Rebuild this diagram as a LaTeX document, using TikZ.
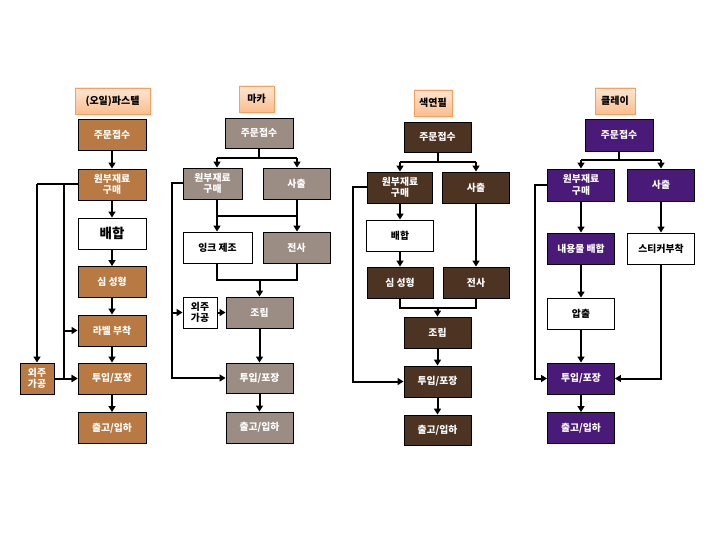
\documentclass[tikz,border=0pt]{standalone}
\usepackage{fontspec}
\newfontfamily\kr{Noto Sans CJK KR}
\usetikzlibrary{arrows.meta}
\definecolor{wood}{HTML}{B87A42}
\definecolor{granite}{HTML}{9B8D84}
\definecolor{pencil}{HTML}{4D3422}
\definecolor{clay}{HTML}{4A1A78}
\definecolor{ttop}{HTML}{FDE6D2}
\definecolor{tbot}{HTML}{F9BE8E}
\definecolor{tedge}{HTML}{F4A060}
\tikzset{
  box/.style={draw=black, line width=0.9pt, minimum height=31pt, minimum width=67pt, inner sep=0pt, align=center,
     font=\kr\bfseries\fontsize{9.8}{11.5}\selectfont},
  pastel/.style={box, fill=wood, text=white},
  marker/.style={box, fill=granite, text=white},
  pencilbox/.style={box, fill=pencil, text=white},
  claybox/.style={box, fill=clay, text=white},
  plain/.style={box, fill=white, text=black},
  titlebox/.style={draw=tedge, line width=0.8pt, top color=ttop, bottom color=tbot, minimum height=26pt,
     inner sep=0pt, font=\kr\bfseries\fontsize{10}{12}\selectfont},
  ln/.style={line width=2pt},
  arr/.style={line width=2pt, -{Triangle[length=6pt,width=7pt]}}
}
\begin{document}
\begin{tikzpicture}[x=1pt,y=-1pt]
\useasboundingbox (0,0) rectangle (720,540);
% ---------- column 1 : pastel ----------
\node[titlebox, minimum width=75pt] (t1) at (112.5,101) {(오일)파스텔};
\node[pastel, minimum width=68pt] (a1) at (112,134.5) {주문접수};
\node[pastel, minimum width=68pt] (a2) at (112,184.5) {원부재료\\구매};
\node[plain, minimum width=68pt, font=\kr\bfseries\fontsize{13.5}{15}\selectfont] (a3) at (112,233.5) {배합};
\node[pastel, minimum width=68pt] (a4) at (112,282) {심 성형};
\node[pastel, minimum width=68pt] (a5) at (112,330.5) {라벨 부착};
\node[pastel, minimum width=68pt] (a6) at (112,378.5) {투입/포장};
\node[pastel, minimum width=68pt] (a7) at (112,428) {출고/입하};
\node[pastel, minimum width=34pt] (a8) at (37,378.5) {외주\\가공};
\draw[arr] (a1) -- (a2);
\draw[arr] (a2) -- (a3);
\draw[arr] (a3) -- (a4);
\draw[arr] (a4) -- (a5);
\draw[arr] (a5) -- (a6);
\draw[arr] (a6) -- (a7);
\coordinate (p1) at (37,184.5);
\coordinate (p2) at (64,184.5);
\draw[ln] (a2.west) -- (p1);
\draw[arr] (p1) -- (a8.north);
\draw[arr] (p2) |- (a5.west);
\draw[arr] (p2) |- (a6.west);
\draw[arr] (a8.east) -- (a6.west);
% ---------- column 2 : marker ----------
\node[titlebox, minimum width=35pt] (t2) at (256.5,99) {마카};
\node[marker, minimum width=68pt, minimum height=30pt] (b1) at (259,133) {주문접수};
\node[marker, minimum width=59pt] (b2) at (212.5,183.5) {원부재료\\구매};
\node[marker] (b3) at (296.5,183.5) {사출};
\node[plain, minimum width=69pt] (b4) at (217.5,247.5) {잉크 제조};
\node[marker] (b5) at (296.5,247.5) {전사};
\node[plain, minimum width=34pt] (b6) at (200,312.5) {외주\\가공};
\node[marker] (b7) at (259.5,312.5) {조립};
\node[marker, minimum height=30pt] (b8) at (259.5,378) {투입/포장};
\node[marker] (b9) at (259.5,427.5) {출고/입하};
\coordinate (q0) at (259,158);
\coordinate (q1) at (217,158);
\coordinate (q2) at (297,158);
\coordinate (q3) at (217,216);
\coordinate (q4) at (297,216);
\coordinate (q5) at (217,280);
\coordinate (q6) at (297,280);
\coordinate (q7) at (259.5,280);
\coordinate (q8) at (172,183.5);
\draw[ln] (b1.south) -- (q0);
\draw[ln] (q1) -- (q2);
\draw[arr] (q1) -- (q1 |- b2.north);
\draw[arr] (q2) -- (q2 |- b3.north);
\draw[ln] (q1 |- b2.south) -- (q3) -- (q4) -- (q4 |- b3.south);
\draw[arr] (q3) -- (q3 |- b4.north);
\draw[arr] (q4) -- (q4 |- b5.north);
\draw[ln] (q5 |- b4.south) -- (q5) -- (q6) -- (q6 |- b5.south);
\draw[arr] (q7) -- (b7.north);
\draw[arr] (b2.west) -- (q8) |- (b8.west);
\draw[arr] (q8 |- b6.west) -- (b6.west);
\draw[arr] (b6) -- (b7);
\draw[arr] (b7) -- (b8);
\draw[arr] (b8) -- (b9);
% ---------- column 3 : colour pencil ----------
\node[titlebox, minimum width=38pt] (t3) at (433,103) {색연필};
\node[pencilbox, minimum height=30pt] (c1) at (437.5,137) {주문접수};
\node[pencilbox, minimum width=65pt] (c2) at (400,187.5) {원부재료\\구매};
\node[pencilbox] (c3) at (476,187.5) {사출};
\node[plain] (c4) at (400,235.5) {배합};
\node[pencilbox, minimum width=66pt] (c5) at (400,282.5) {심 성형};
\node[pencilbox, minimum width=66pt] (c6) at (476,282.5) {전사};
\node[pencilbox] (c7) at (437.5,332.5) {조립};
\node[pencilbox] (c8) at (437.5,381.5) {투입/포장};
\node[pencilbox, minimum height=30pt] (c9) at (437.5,430) {출고/입하};
\coordinate (r0) at (437.5,162);
\coordinate (r1) at (400,162);
\coordinate (r2) at (476,162);
\coordinate (r3) at (400,308);
\coordinate (r4) at (476,308);
\coordinate (r5) at (437.5,308);
\coordinate (r6) at (353,187.5);
\draw[ln] (c1.south) -- (r0);
\draw[ln] (r1) -- (r2);
\draw[arr] (r1) -- (c2.north);
\draw[arr] (r2) -- (c3.north);
\draw[arr] (c2) -- (c4);
\draw[arr] (c4) -- (c5);
\draw[arr] (c3) -- (c6);
\draw[ln] (c5.south) -- (r3) -- (r4) -- (c6.south);
\draw[arr] (r5) -- (c7.north);
\draw[arr] (c7) -- (c8);
\draw[arr] (c8) -- (c9);
\draw[arr] (c2.west) -- (r6) |- (c8.west);
% ---------- column 4 : clay ----------
\node[titlebox, minimum width=40pt] (t4) at (615,101) {클레이};
\node[claybox, minimum width=68pt, minimum height=32pt] (d1) at (619,135) {주문접수};
\node[claybox, minimum height=32pt] (d2) at (581,185) {원부재료\\구매};
\node[claybox, minimum height=32pt] (d3) at (661,185) {사출};
\node[claybox] (d4) at (581,248.5) {내용물 배합};
\node[plain] (d5) at (661,248.5) {스티커부착};
\node[plain] (d6) at (581,313.5) {압출};
\node[claybox] (d7) at (581,378.5) {투입/포장};
\node[claybox] (d8) at (581,428) {출고/입하};
\coordinate (s0) at (619,160);
\coordinate (s1) at (581,160);
\coordinate (s2) at (661,160);
\coordinate (s3) at (535,185);
\draw[ln] (d1.south) -- (s0);
\draw[ln] (s1) -- (s2);
\draw[arr] (s1) -- (d2.north);
\draw[arr] (s2) -- (d3.north);
\draw[arr] (d2) -- (d4);
\draw[arr] (d4) -- (d6);
\draw[arr] (d6) -- (d7);
\draw[arr] (d7) -- (d8);
\draw[arr] (d3) -- (d5);
\draw[arr] (d5.south) |- (d7.east);
\draw[arr] (d2.west) -- (s3) |- (d7.west);
\end{tikzpicture}
\end{document}
